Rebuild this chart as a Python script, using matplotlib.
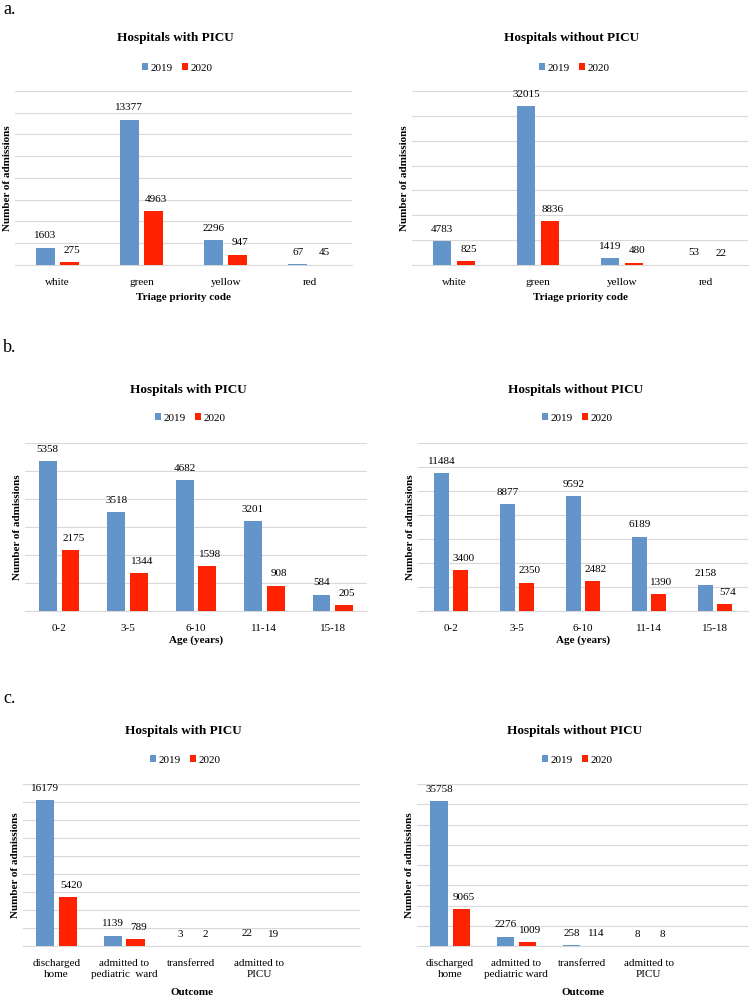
import numpy as np
from matplotlib import pyplot as plt

plt.rcParams['font.family'] = ['Liberation Serif', 'DejaVu Serif']

# ---data---
years = ['2019', '2020']

triage_codes = ['white', 'green', 'yellow', 'red']
triage_picu_2019 = [1603, 13377, 2296, 67]
triage_picu_2020 = [275, 4963, 947, 45]
triage_nopicu_2019 = [4783, 32015, 1419, 53]
triage_nopicu_2020 = [825, 8836, 480, 22]

age_groups = ['0-2', '3-5', '6-10', '11-14', '15-18']
age_picu_2019 = [5358, 3518, 4682, 3201, 584]
age_picu_2020 = [2175, 1344, 1598, 908, 205]
age_nopicu_2019 = [11484, 8877, 9592, 6189, 2158]
age_nopicu_2020 = [3400, 2350, 2482, 1390, 574]

outcomes_picu = ['discharged\nhome', 'admitted to\npediatric  ward', 'transferred', 'admitted to\nPICU', '']
outcomes_nopicu = ['discharged\nhome', 'admitted to\npediatric ward', 'transferred', 'admitted to\nPICU', '']
outcome_picu_2019 = [16179, 1139, 3, 22]
outcome_picu_2020 = [5420, 789, 2, 19]
outcome_nopicu_2019 = [35758, 2276, 258, 8]
outcome_nopicu_2020 = [9065, 1009, 114, 8]

BLUE = '#6495CA'
RED = '#FF2200'
GRID = '#D9D9D9'

W, H = 750, 997
fig = plt.figure(figsize=(W / 100, H / 100), dpi=100)


def fx(x):
    return x / W


def fy(y):
    return 1 - y / H


def panel(box, title, title_xy, legend_xy, cats, v19, v20, ymax, ystep,
          bar_w, gap, xlabel, xlabel_y):
    x0, x1, ytop, ybase = box
    ax = fig.add_axes([fx(x0), fy(ybase), fx(x1 - x0), (ybase - ytop) / H])
    x = np.arange(len(v19))
    off = (bar_w + gap) / 2
    b1 = ax.bar(x - off, v19, bar_w, color=BLUE, label=years[0], zorder=3)
    b2 = ax.bar(x + off, v20, bar_w, color=RED, label=years[1], zorder=3)
    for rects, vals, dx in [(b1, v19, 0), (b2, v20, 2)]:
        for r, v in zip(rects, vals):
            ax.annotate(str(v), (r.get_x() + r.get_width() / 2, v),
                        xytext=(dx, 8.5), textcoords='offset points',
                        ha='center', va='center', fontsize=8)
    ax.set_xlim(-0.5, len(cats) - 0.5)
    ax.set_ylim(0, ymax)
    ax.set_yticks(np.arange(0, ymax + ystep, ystep))
    ax.set_xticks(np.arange(len(cats)))
    ax.set_xticklabels(cats, fontsize=8, linespacing=1.25)
    ax.tick_params(left=False, labelleft=False, bottom=False, pad=6)
    ax.grid(axis='y', color=GRID, linewidth=0.8, zorder=0)
    for s in ['top', 'right', 'left']:
        ax.spines[s].set_visible(False)
    ax.spines['bottom'].set_color(GRID)
    ax.set_ylabel('Number of admissions', fontsize=8, fontweight='bold', labelpad=2)
    fig.text(fx(title_xy[0]), fy(title_xy[1]), title, ha='center', va='center',
             fontsize=9.5, fontweight='bold')
    ax.legend(loc='center', bbox_to_anchor=(fx(legend_xy[0]), fy(legend_xy[1])),
              bbox_transform=fig.transFigure, ncol=2, frameon=False, fontsize=8,
              handlelength=0.6, handleheight=0.6, handletextpad=0.2,
              columnspacing=0.8)
    fig.text(fx((x0 + x1) / 2), fy(xlabel_y), xlabel, ha='center', va='center',
             fontsize=8, fontweight='bold')
    return ax


# row a
panel((15, 352, 91, 265), 'Hospitals with PICU', (175, 38), (177, 68),
      triage_codes, triage_picu_2019, triage_picu_2020, 16000, 2000,
      0.225, 0.06, 'Triage priority code', 297)
panel((412, 748, 91, 265), 'Hospitals without PICU', (572, 38), (574, 68),
      triage_codes, triage_nopicu_2019, triage_nopicu_2020, 35000, 5000,
      0.22, 0.063, 'Triage priority code', 297)

# row b
panel((25, 367, 443, 611), 'Hospitals with PICU', (188, 390), (190, 418),
      age_groups, age_picu_2019, age_picu_2020, 6000, 1000,
      0.26, 0.073, 'Age (years)', 640)
panel((418, 748, 443, 611), 'Hospitals without PICU', (576, 390), (577, 418),
      age_groups, age_nopicu_2019, age_nopicu_2020, 14000, 2000,
      0.232, 0.056, 'Age (years)', 640)

# row c
panel((23, 360, 784, 946), 'Hospitals with PICU', (183, 731), (185, 760),
      outcomes_picu, outcome_picu_2019, outcome_picu_2020, 18000, 2000,
      0.27, 0.07, 'Outcome', 992)
panel((417, 748, 784, 946), 'Hospitals without PICU', (575, 731), (577, 760),
      outcomes_nopicu, outcome_nopicu_2019, outcome_nopicu_2020, 40000, 5000,
      0.26, 0.075, 'Outcome', 992)

fig.text(fx(3), fy(9), 'a.', fontsize=13, ha='left', va='center')
fig.text(fx(3), fy(347), 'b.', fontsize=13, ha='left', va='center')
fig.text(fx(3), fy(698), 'c.', fontsize=13, ha='left', va='center')

fig.savefig('out.png', dpi=100)
